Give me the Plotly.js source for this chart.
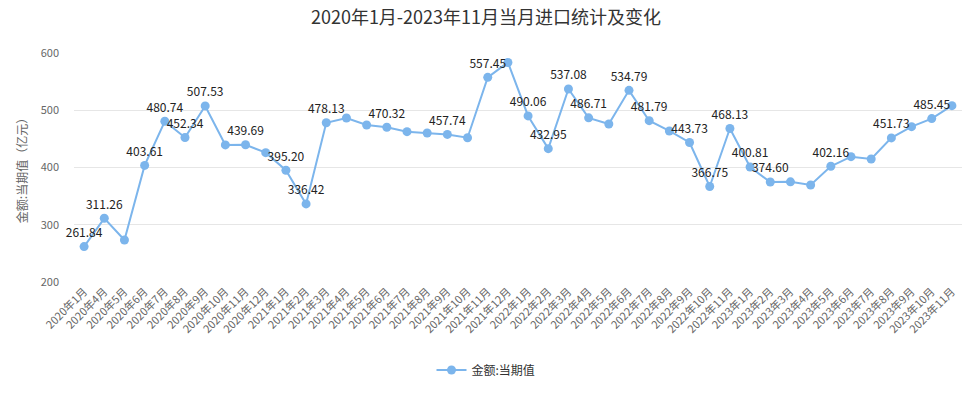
<!DOCTYPE html>
<html>
<head>
<meta charset="utf-8">
<script src="https://cdn.plot.ly/plotly-3.0.1.min.js"></script>
<style>html,body{margin:0;padding:0;background:#fff;}#chart{width:972px;height:400px;}</style>
</head>
<body>
<div id="chart"></div>
<script>
const categories = [
  '2020年1月','2020年4月','2020年5月','2020年6月','2020年7月','2020年8月','2020年9月','2020年10月','2020年11月','2020年12月',
  '2021年1月','2021年2月','2021年3月','2021年4月','2021年5月','2021年6月','2021年7月','2021年8月','2021年9月','2021年10月','2021年11月','2021年12月',
  '2022年1月','2022年2月','2022年3月','2022年4月','2022年5月','2022年6月','2022年7月','2022年8月','2022年9月','2022年10月','2022年11月',
  '2023年1月','2023年2月','2023年3月','2023年4月','2023年5月','2023年6月','2023年7月','2023年8月','2023年9月','2023年10月','2023年11月'
];
const values = [
  261.84, 311.26, 273.4, 403.61, 480.74, 452.34, 507.53, 439.5, 439.69, 425.9,
  395.20, 336.42, 478.13, 486.5, 474.2, 470.32, 462.6, 460.3, 457.74, 452.0, 557.45, 583.5,
  490.06, 432.95, 537.08, 486.71, 476.0, 534.79, 481.79, 463.8, 443.73, 366.75, 468.13,
  400.81, 374.60, 375.0, 369.4, 402.16, 418.9, 414.8, 451.73, 471.3, 485.45, 508.0
];
const labelShown = [
  1,1,0,1,1,1,1,0,1,0,
  1,1,1,0,0,1,0,0,1,0,1,0,
  1,1,1,1,0,1,1,0,1,1,1,
  1,1,0,0,1,0,0,1,0,1,0
];
const seriesName = '金额:当期值';
const labels = values.map((v, i) => labelShown[i] ? v.toFixed(2) : '');

const trace = {
  type: 'scatter',
  mode: 'lines+markers+text',
  name: seriesName,
  x: categories,
  y: values,
  text: labels,
  textposition: 'top center',
  textfont: {family: 'Noto Sans CJK SC, Noto Sans, sans-serif', size: 12, color: '#222'},
  line: {color: '#7cb5ec', width: 2},
  marker: {color: '#7cb5ec', size: 9},
  cliponaxis: false,
  hoverinfo: 'x+y'
};

const layout = {
  width: 972, height: 400,
  margin: {l: 74, r: 10, t: 53, b: 118},
  paper_bgcolor: '#fff', plot_bgcolor: '#fff',
  title: {
    text: '2020年1月-2023年11月当月进口统计及变化',
    x: 0.5, xanchor: 'center', y: 0.955, yanchor: 'middle',
    font: {family: 'Noto Sans CJK SC, sans-serif', size: 18, color: '#333'}
  },
  font: {family: 'Noto Sans CJK SC, Noto Sans, sans-serif', color: '#666'},
  xaxis: {
    type: 'category',
    range: [-0.5, 43.5],
    tickangle: -45,
    tickfont: {size: 11, color: '#666'},
    showgrid: false,
    showline: false,
    zeroline: false,
    ticks: '',
    automargin: false
  },
  yaxis: {
    range: [200, 600],
    dtick: 100,
    tickfont: {size: 11, color: '#666'},
    gridcolor: '#e6e6e6',
    zeroline: false,
    showline: false,
    ticklabelstandoff: 14,
    title: {text: '金额:当期值（亿元）', font: {size: 12, color: '#666'}, standoff: 10},
    automargin: false
  },
  showlegend: true,
  legend: {
    orientation: 'h', x: 0.5, xanchor: 'center', xref: 'container',
    y: 0.075, yanchor: 'middle', yref: 'container',
    font: {size: 12, color: '#333'}
  }
};

Plotly.newPlot('chart', [trace], layout, {displayModeBar: false, staticPlot: true});
</script>
</body>
</html>
